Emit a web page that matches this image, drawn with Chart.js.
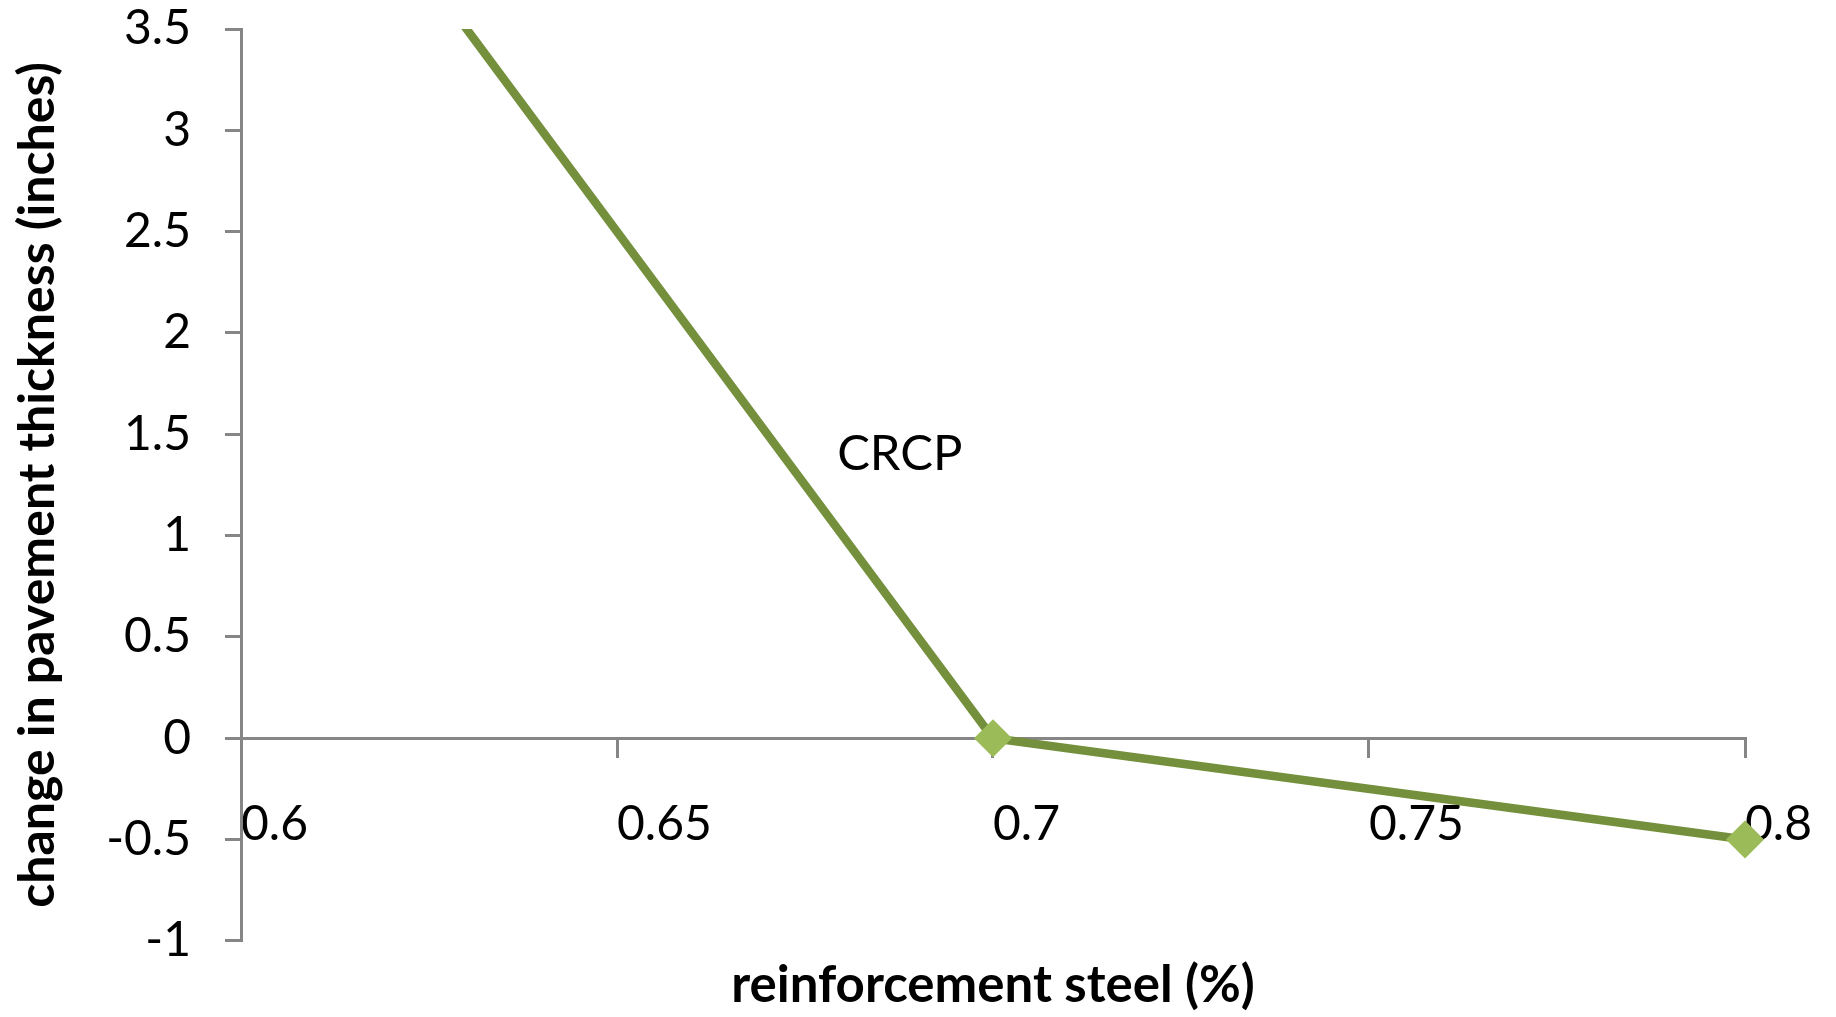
<!DOCTYPE html>
<html>
<head>
<meta charset="utf-8">
<title>CRCP – change in pavement thickness</title>
<script src="https://cdn.jsdelivr.net/npm/chart.js@4/dist/chart.umd.min.js"></script>
<style>
  html, body { margin: 0; padding: 0; background: #ffffff; }
  canvas { display: block; }
</style>
</head>
<body>
<canvas id="chart" width="1836" height="1017"></canvas>
<script>
// Reinforcement steel content (%) and the resulting change in slab thickness (in)
const steelPct = [0.6, 0.7, 0.8];
const thicknessChange = [5, 0, -0.5];

// Axis tick values
const xTickValues = [0.6, 0.65, 0.7, 0.75, 0.8];
const yTickValues = [-1, -0.5, 0, 0.5, 1, 1.5, 2, 2.5, 3, 3.5];

// Series label placed next to the line, in data units
const seriesName = 'CRCP';
const seriesLabelAt = { x: 0.6876, y: 1.4 };

const axisGray = '#868686';
const lineColor = '#74903C';
const markerColor = '#9BBB59';
const tickFont = { family: 'Lato', size: 48, weight: 'normal', lineHeight: 1.2 };
const titleFont = { family: 'Lato', size: 51, weight: 'bold', lineHeight: 1.2 };

const seriesLabelPlugin = {
  id: 'seriesLabel',
  afterDatasetsDraw(chart) {
    const { ctx, scales } = chart;
    ctx.save();
    ctx.font = 'normal 49px Lato';
    ctx.fillStyle = '#000000';
    ctx.textAlign = 'center';
    ctx.textBaseline = 'middle';
    ctx.fillText(seriesName, scales.x.getPixelForValue(seriesLabelAt.x), scales.y.getPixelForValue(seriesLabelAt.y));
    ctx.restore();
  }
};

new Chart(document.getElementById('chart'), {
  type: 'line',
  data: {
    datasets: [{
      label: seriesName,
      data: steelPct.map((x, i) => ({ x, y: thicknessChange[i] })),
      borderColor: lineColor,
      borderWidth: 8.5,
      backgroundColor: markerColor,
      pointStyle: 'rectRot',
      pointRadius: 19,
      pointBorderWidth: 0,
      pointBorderColor: markerColor,
      pointBackgroundColor: markerColor,
      tension: 0,
      fill: false,
      clip: { left: 0, top: 0, right: 40, bottom: 40 }
    }]
  },
  options: {
    responsive: false,
    devicePixelRatio: 1,
    animation: false,
    layout: { padding: { left: 0, top: 29, right: 91, bottom: 0 } },
    plugins: {
      legend: { display: false },
      tooltip: { enabled: false },
      title: {
        display: true,
        text: 'reinforcement steel (%)',
        position: 'bottom',
        fullSize: false,
        color: '#000000',
        font: titleFont,
        padding: { top: 14, bottom: 1 }
      }
    },
    scales: {
      x: {
        type: 'linear',
        position: { y: 0 },
        min: 0.6,
        max: 0.8,
        afterBuildTicks(scale) { scale.ticks = xTickValues.map(v => ({ value: v })); },
        afterFit(scale) { scale.paddingLeft = 0; scale.paddingRight = 0; },
        border: { display: true, color: axisGray, width: 3 },
        grid: { drawOnChartArea: false, drawTicks: true, tickLength: 18, color: axisGray, lineWidth: 3 },
        ticks: {
          align: 'start',
          padding: 40,
          color: '#000000',
          font: tickFont,
          maxRotation: 0,
          autoSkip: false,
          callback: v => String(v)
        }
      },
      y: {
        type: 'linear',
        position: 'left',
        min: -1,
        max: 3.5,
        afterBuildTicks(scale) { scale.ticks = yTickValues.map(v => ({ value: v })); },
        afterFit(scale) {
          scale.width = 241;
          scale.paddingTop = 0;
          scale.paddingBottom = 0;
        },
        border: { display: true, color: axisGray, width: 3 },
        grid: { drawOnChartArea: false, drawTicks: true, tickLength: 16, color: axisGray, lineWidth: 3 },
        ticks: {
          padding: 34,
          color: '#000000',
          font: tickFont,
          autoSkip: false,
          callback: v => String(v)
        },
        title: {
          display: true,
          text: 'change in pavement thickness (inches)',
          color: '#000000',
          font: { family: 'Lato', size: 50, weight: 'bold', lineHeight: 1.2 },
          padding: { top: 8, bottom: 0 }
        }
      }
    }
  },
  plugins: [seriesLabelPlugin]
});
</script>
</body>
</html>
